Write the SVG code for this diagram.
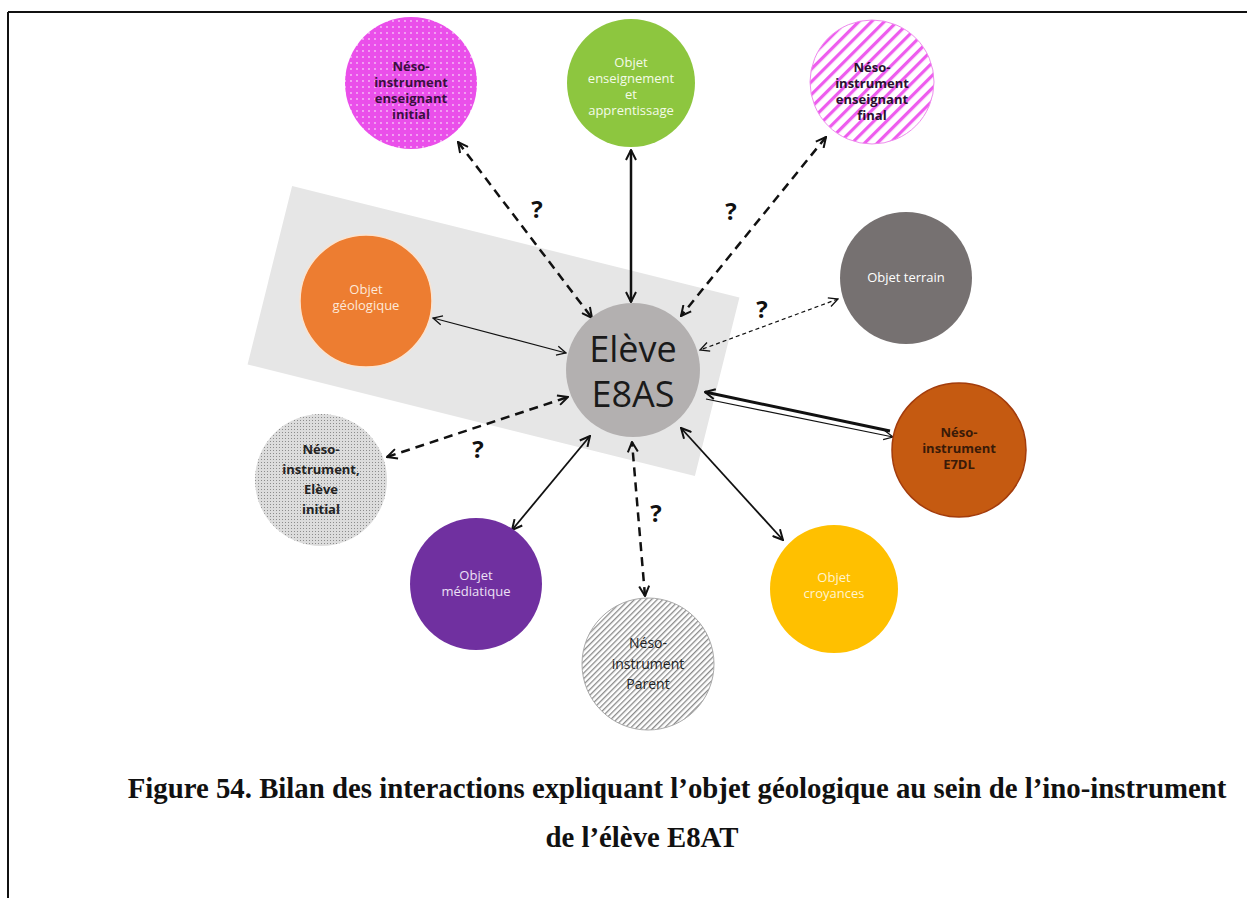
<svg xmlns="http://www.w3.org/2000/svg" width="1247" height="898" viewBox="0 0 1247 898">
<style>
.lbl{font-family:"Open Sans","Noto Sans",sans-serif;font-size:13px;text-anchor:middle}
.b{font-weight:bold}
.q{font-family:"Open Sans","Noto Sans",sans-serif;font-size:24px;font-weight:bold;text-anchor:middle;fill:#111}
.cap{font-family:"Liberation Serif","Times New Roman",serif;font-size:28.8px;font-weight:bold;text-anchor:middle;fill:#111}
.thick{stroke:#111;stroke-width:2.5;fill:none}
.med{stroke:#111;stroke-width:1.8;fill:none}
.thin{stroke:#111;stroke-width:1.2;fill:none}
.dash{stroke-dasharray:9 6}
.dashs{stroke-dasharray:4 3}
</style>
<defs>
<marker id="ah" viewBox="0 0 12 12" refX="11" refY="6" markerWidth="12" markerHeight="12" markerUnits="userSpaceOnUse" orient="auto-start-reverse">
<path d="M1,1 L11,6 L1,11" fill="none" stroke="#111" stroke-width="2"/>
</marker>
<marker id="ahs" viewBox="0 0 12 12" refX="11" refY="6" markerWidth="11" markerHeight="11" markerUnits="userSpaceOnUse" orient="auto-start-reverse">
<path d="M1,1 L11,6 L1,11" fill="none" stroke="#111" stroke-width="1.4"/>
</marker>
<pattern id="dots" width="6" height="6" patternUnits="userSpaceOnUse">
<rect width="6" height="6" fill="#ea4fea"/>
<circle cx="3" cy="3" r="0.9" fill="#f6c4f6"/>
</pattern>
<pattern id="stripes" width="9" height="9" patternUnits="userSpaceOnUse" patternTransform="rotate(45)">
<rect width="9" height="9" fill="#ffffff"/>
<rect width="3.2" height="9" fill="#ee5cee"/>
</pattern>
<pattern id="hatch" width="4" height="4" patternUnits="userSpaceOnUse" patternTransform="rotate(45)">
<rect width="4" height="4" fill="#ffffff"/>
<rect width="1.3" height="4" fill="#8a8a8a"/>
</pattern>
<pattern id="fine" width="3" height="3" patternUnits="userSpaceOnUse">
<rect width="3" height="3" fill="#dcdcdc"/>
<rect width="1" height="1" fill="#8c8c8c"/>
</pattern>
</defs>
<rect width="1247" height="898" fill="#ffffff"/>
<g id="frame">
<line x1="8" y1="12" x2="1247" y2="12" stroke="#111" stroke-width="2"/>
<line x1="8" y1="12" x2="8" y2="898" stroke="#111" stroke-width="2"/>
</g>
<g id="highlight">
<rect x="-230.5" y="-92" width="461" height="184" fill="#e6e6e6" transform="translate(493.5,331) rotate(14)"/>
</g>
<g id="connectors">
<line class="thick dash" x1="458" y1="142" x2="592" y2="318" marker-start="url(#ah)" marker-end="url(#ah)"/>
<line class="thick" x1="631" y1="150" x2="631" y2="302" marker-start="url(#ah)" marker-end="url(#ah)"/>
<line class="thick dash" x1="826" y1="137" x2="681" y2="316" marker-start="url(#ah)" marker-end="url(#ah)"/>
<line class="thin" x1="433" y1="318" x2="566" y2="353" marker-start="url(#ahs)" marker-end="url(#ahs)"/>
<line class="thin dashs" x1="838" y1="299" x2="700" y2="350" marker-start="url(#ahs)" marker-end="url(#ahs)"/>
<line stroke="#111" stroke-width="3" x1="890" y1="431" x2="705" y2="392" marker-end="url(#ah)"/>
<line class="thin" x1="706" y1="399" x2="893" y2="437" marker-end="url(#ahs)"/>
<line class="thick dash" x1="387" y1="457" x2="568" y2="397" marker-start="url(#ah)" marker-end="url(#ah)"/>
<line class="med" x1="512" y1="530" x2="590" y2="436" marker-start="url(#ah)" marker-end="url(#ah)"/>
<line class="thick dash" x1="645" y1="596" x2="632" y2="442" marker-start="url(#ah)" marker-end="url(#ah)"/>
<line class="med" x1="783" y1="540" x2="681" y2="428" marker-start="url(#ah)" marker-end="url(#ah)"/>
</g>
<g id="questions">
<text class="q" x="537" y="218">?</text>
<text class="q" x="731" y="220">?</text>
<text class="q" x="762" y="318">?</text>
<text class="q" x="478" y="458">?</text>
<text class="q" x="656" y="522">?</text>
</g>
<g id="n-neso-ens-init">
<circle cx="411" cy="83" r="66" fill="url(#dots)"/>
<text class="lbl b" fill="#3a1040"><tspan x="411" y="71">Néso-</tspan><tspan x="411" y="87">instrument</tspan><tspan x="411" y="103">enseignant</tspan><tspan x="411" y="119">initial</tspan></text>
</g>
<g id="n-objet-ens">
<circle cx="631" cy="83" r="64" fill="#8dc63f"/>
<text class="lbl" fill="#f4fbe8"><tspan x="631" y="67">Objet</tspan><tspan x="631" y="83">enseignement</tspan><tspan x="631" y="99">et</tspan><tspan x="631" y="115">apprentissage</tspan></text>
</g>
<g id="n-neso-ens-final">
<circle cx="872" cy="82" r="62" fill="url(#stripes)" stroke="#ee8cee" stroke-width="1"/>
<text class="lbl b" fill="#2a1030"><tspan x="872" y="72">Néso-</tspan><tspan x="872" y="88">instrument</tspan><tspan x="872" y="104">enseignant</tspan><tspan x="872" y="120">final</tspan></text>
</g>
<g id="n-objet-geo">
<circle cx="366" cy="301" r="66" fill="#ed7d31" stroke="#fbe3cf" stroke-width="1.5"/>
<text class="lbl" fill="#fde9d9"><tspan x="366" y="294">Objet</tspan><tspan x="366" y="310">géologique</tspan></text>
</g>
<g id="n-objet-terrain">
<circle cx="906" cy="278" r="66" fill="#767171"/>
<text class="lbl" fill="#ffffff" x="906" y="282">Objet  terrain</text>
</g>
<g id="n-eleve">
<circle cx="633" cy="370" r="67" fill="#b3b0b0"/>
<text font-family="'Open Sans','Noto Sans',sans-serif" font-size="36" text-anchor="middle" fill="#1a1a1a"><tspan x="633" y="362">Elève</tspan><tspan x="633" y="407">E8AS</tspan></text>
</g>
<g id="n-neso-e7dl">
<circle cx="959" cy="450" r="67" fill="#c55a11" stroke="#a33c0c" stroke-width="1.5"/>
<text class="lbl b" fill="#3a1a08"><tspan x="959" y="437">Néso-</tspan><tspan x="959" y="453">instrument</tspan><tspan x="959" y="469">E7DL</tspan></text>
</g>
<g id="n-neso-eleve-init">
<circle cx="321" cy="480" r="66" fill="url(#fine)"/>
<text class="lbl b" fill="#222"><tspan x="321" y="454">Néso-</tspan><tspan x="321" y="474">instrument,</tspan><tspan x="321" y="494">Elève</tspan><tspan x="321" y="514">initial</tspan></text>
</g>
<g id="n-objet-med">
<circle cx="476" cy="584" r="66" fill="#7030a0"/>
<text class="lbl" fill="#ece0f5"><tspan x="476" y="580">Objet</tspan><tspan x="476" y="596">médiatique</tspan></text>
</g>
<g id="n-neso-parent">
<circle cx="648" cy="664" r="66" fill="url(#hatch)" stroke="#aaa" stroke-width="1"/>
<text font-family="'Open Sans','Noto Sans',sans-serif" font-size="14" text-anchor="middle" fill="#222"><tspan x="648" y="648">Néso-</tspan><tspan x="648" y="669">instrument</tspan><tspan x="648" y="689">Parent</tspan></text>
</g>
<g id="n-objet-croy">
<circle cx="834" cy="589" r="64" fill="#ffc000"/>
<text class="lbl" fill="#fff4d0"><tspan x="834" y="582">Objet</tspan><tspan x="834" y="598">croyances</tspan></text>
</g>
<g id="caption">
<text class="cap" x="677" y="798">Figure 54. Bilan des interactions expliquant l’objet géologique au sein de l’ino-instrument</text>
<text class="cap" x="642" y="847">de l’élève E8AT</text>
</g>
</svg>
